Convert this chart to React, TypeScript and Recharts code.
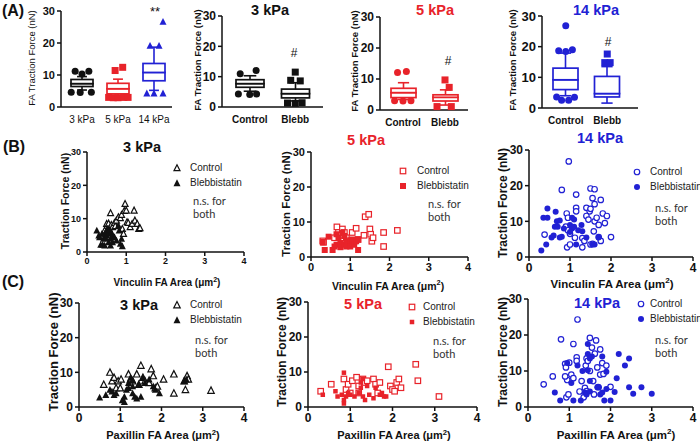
import React from 'react'
import { ComposedChart, ScatterChart, Bar, Scatter, XAxis, YAxis } from 'recharts'

const RED = '#e8232a'
const BLUE = '#2121d4'
const INK = '#111'
const FONT = '"Liberation Sans", Arial, sans-serif'
const NOTE_FONT = 'Lato, "Open Sans", sans-serif'

// ---- (A) box plots, stats are [min, q1, median, q3, max] ----
const stiffCats = ['3 kPa', '5 kPa', '14 kPa']
const stiffStats = [
  [5.3, 6.4, 7.3, 8.6, 9.5],
  [3.3, 4.1, 5.7, 7.4, 8.7],
  [5.2, 8.2, 10.8, 13.6, 18.7],
]
// outliers: [offset inside the band, value]
const stiffOut = [
  [[-0.19, 11.2], [0, 10.3], [0.19, 11.2], [-0.3, 4.6], [-0.05, 4.5], [0.26, 4.6]],
  [[-0.08, 11.4], [0.13, 12.4], [-0.26, 3], [-0.13, 2.9], [0, 2.9], [0.16, 3], [0.28, 3]],
  [[0.25, 26.7], [-0.11, 19.2], [0.14, 19.2], [-0.2, 4.3], [0, 4.3], [0.25, 4.3]],
]

const treatCats = ['Control', 'Blebb']
const stats3 = [[5.2, 6.5, 7.7, 9.0, 10.3], [2.0, 3.0, 4.4, 5.9, 8.0]]
const out3 = [
  [[-0.21, 11.0], [0.14, 12.0], [-0.25, 4.3], [0, 4.1], [0.15, 4.3]],
  [[0, 11.5], [-0.1, 8.8], [0.11, 8.6], [-0.17, 1.3], [0, 1.2], [0.15, 1.4]],
]
const stats5 = [[3.4, 4.0, 5.6, 7.0, 8.8], [1.6, 2.9, 4.1, 4.9, 6.5]]
const out5 = [
  [[-0.13, 12.1], [0.08, 12.4], [-0.2, 3.0], [0, 2.9], [0.19, 3.0]],
  [[0, 9.7], [0.1, 7.3], [-0.19, 1.1], [0.15, 1.1]],
]
const stats14 = [[4.0, 6.0, 9.2, 13.0, 17.9], [1.6, 3.6, 4.7, 10.3, 13.5]]
const out14 = [
  [[0, 26.8], [-0.17, 18.7], [0, 18.4], [0.16, 19.0], [-0.22, 3.6], [-0.1, 2.5], [0.07, 2.5], [0.21, 3.5]],
  [[0, 17.6], [-0.06, 14.8], [0.07, 14.8]],
]

// ---- (B) vinculin FA area vs traction force, [area, force] ----
const vin3Ctrl = [[0.45, 6.5], [0.5, 8.5], [0.55, 8.6], [0.55, 6], [0.6, 11.7], [0.62, 8.2], [0.65, 7.5], [0.7, 8.8], [0.72, 7.8], [0.75, 9.5], [0.8, 10.5], [0.85, 10.2], [0.88, 11.2], [0.9, 7], [0.93, 5.5], [0.95, 12.4], [0.97, 14.5], [1.0, 12.5], [1.02, 9], [1.05, 8.8], [1.1, 7.5], [1.15, 8.5], [1.2, 12.5], [1.22, 9.5], [1.28, 8.5], [1.32, 7], [1.35, 7.2]]
const vin3Bleb = [[0.25, 6.5], [0.3, 5], [0.32, 4.5], [0.35, 2.2], [0.38, 5.5], [0.4, 2.2], [0.42, 4], [0.45, 2], [0.45, 5.5], [0.5, 6.5], [0.5, 5], [0.52, 7], [0.55, 5.5], [0.55, 3], [0.6, 4], [0.6, 2], [0.62, 6], [0.65, 5], [0.65, 3], [0.7, 4.5], [0.75, 3.5], [0.8, 8], [0.82, 6.5], [0.85, 2.5], [0.88, 4], [0.9, 1.8], [0.48, 4.2], [0.58, 6.8]]
const vin5Ctrl = [[0.3, 4.6], [0.32, 4.2], [0.6, 5.5], [0.66, 8.6], [0.7, 7], [0.75, 6.2], [0.8, 8], [0.85, 7], [0.9, 5.5], [0.95, 3.5], [1.05, 7], [1.1, 4.5], [1.15, 8.2], [1.2, 5], [1.35, 6.2], [1.38, 11.5], [1.47, 12.2], [1.5, 8], [1.52, 6.5], [1.55, 4.5], [1.58, 5.5], [1.85, 7], [1.85, 3], [2.2, 7.6]]
const vin5Bleb = [[0.3, 4.2], [0.35, 2], [0.45, 5.8], [0.55, 2], [0.6, 3], [0.65, 3.5], [0.65, 6.5], [0.7, 5.5], [0.75, 4], [0.75, 2.8], [0.8, 7], [0.85, 3.5], [0.85, 6], [0.9, 4.5], [0.9, 3], [0.95, 4], [1.0, 3], [1.0, 4.8], [1.05, 5], [1.1, 3.5], [1.15, 4.5], [1.2, 2], [1.2, 5]]
const vin14Ctrl = [[0.38, 6.3], [0.8, 18.8], [0.9, 8.5], [0.92, 12.2], [0.93, 2.7], [0.95, 11], [0.95, 7.5], [0.97, 26.8], [1.0, 3.5], [1.0, 6.5], [1.12, 5.4], [1.15, 17.5], [1.15, 13.8], [1.15, 12.8], [1.3, 5.3], [1.3, 2.7], [1.35, 4.5], [1.4, 13.8], [1.4, 11.5], [1.45, 10.5], [1.48, 12.8], [1.5, 19.2], [1.5, 13.5], [1.5, 3.5], [1.55, 16.5], [1.55, 3.7], [1.58, 7.2], [1.6, 19], [1.6, 14.8], [1.6, 10], [1.65, 11], [1.7, 9], [1.7, 5.6], [1.75, 16], [1.75, 4.5], [1.8, 12.2], [1.85, 9.5], [1.9, 11.5], [2.0, 5.6]]
const vin14Bleb = [[0.3, 1.8], [0.35, 11], [0.42, 3.5], [0.45, 13.6], [0.45, 11], [0.55, 5.5], [0.6, 6], [0.63, 8.5], [0.65, 12.7], [0.68, 10], [0.7, 8.5], [0.75, 10.2], [0.75, 5.5], [0.8, 5.7], [0.85, 8], [1.0, 9], [1.0, 7], [1.05, 11], [1.05, 8], [1.1, 10.5], [1.1, 8.5], [1.15, 3.5], [1.2, 7.5], [1.28, 9], [1.3, 7.2], [1.4, 5.5], [1.55, 3.5], [1.6, 3.5], [1.7, 5.5]]

// ---- (C) paxillin FA area vs traction force ----
const pax3Ctrl = [[0.6, 6.5], [0.75, 10], [0.8, 7.5], [0.85, 8.5], [0.9, 5.5], [0.95, 7.5], [1.0, 5.5], [1.02, 8], [1.2, 9.5], [1.25, 8], [1.3, 7.5], [1.4, 9.5], [1.45, 6.5], [1.5, 12], [1.55, 8.5], [1.6, 7.5], [1.7, 7], [1.75, 11], [1.8, 9], [1.85, 5.5], [1.9, 6], [2.05, 8], [2.3, 9.5], [2.3, 4], [2.55, 7.5], [2.58, 5], [2.62, 9], [2.65, 8], [3.2, 4.8]]
const pax3Bleb = [[0.5, 2.8], [0.65, 3.5], [0.75, 5], [0.8, 4.5], [0.85, 3.5], [0.9, 4], [1.05, 2], [1.1, 1.5], [1.1, 3], [1.15, 5], [1.2, 7], [1.2, 5.5], [1.25, 8.5], [1.3, 6], [1.3, 4], [1.3, 7.8], [1.35, 3], [1.4, 2.5], [1.45, 6.5], [1.5, 3], [1.55, 8.5], [1.6, 7], [1.7, 8], [1.8, 6], [1.85, 5], [1.95, 4], [2.55, 7.5], [2.6, 8]]
const pax5Ctrl = [[0.3, 4.5], [0.55, 6.5], [0.85, 8], [0.9, 5], [0.95, 6.5], [1.0, 4], [1.05, 7.5], [1.15, 8.5], [1.2, 6], [1.2, 4], [1.3, 8], [1.35, 7], [1.4, 7.5], [1.55, 8], [1.6, 6.5], [1.65, 4], [1.7, 7], [1.9, 11.5], [1.95, 6], [2.0, 5], [2.05, 4.5], [2.1, 7], [2.15, 8], [2.2, 5.5], [2.55, 12.2], [2.6, 7.5], [3.1, 3]]
const pax5Bleb = [[0.35, 3.5], [0.65, 4.5], [0.7, 3], [0.8, 3.5], [0.85, 9.8], [0.85, 2], [0.85, 1], [0.9, 3], [0.95, 4], [1.0, 3.5], [1.1, 3], [1.2, 4], [1.25, 7], [1.25, 5.5], [1.3, 8], [1.3, 3], [1.35, 2], [1.4, 6], [1.45, 3.5], [1.55, 2.5], [1.6, 5.5], [1.7, 3.5], [1.75, 4], [1.8, 3], [1.85, 3]]
const pax14Ctrl = [[0.38, 6.3], [0.6, 8.5], [0.8, 18.8], [0.9, 12], [0.92, 11], [0.95, 7.5], [0.9, 8.5], [0.93, 2.7], [0.98, 3.5], [1.0, 12.3], [1.05, 9], [1.1, 8], [1.1, 17.5], [1.18, 13.8], [1.18, 12.8], [1.2, 24.3], [1.25, 4.3], [1.3, 7.2], [1.35, 2.7], [1.38, 5.3], [1.4, 11.5], [1.42, 13.5], [1.42, 4.4], [1.45, 12.8], [1.5, 19.2], [1.5, 10], [1.55, 16.5], [1.58, 7.2], [1.6, 3.5], [1.62, 14.8], [1.65, 18.5], [1.68, 11], [1.7, 5.5], [1.75, 9], [1.75, 16], [1.8, 12.2], [1.83, 9.2], [1.9, 11.5], [2.0, 5.6]]
const pax14Bleb = [[0.65, 4], [0.78, 1.8], [0.95, 12.2], [1.05, 6.7], [1.1, 1.8], [1.2, 11.5], [1.28, 1.8], [1.32, 10], [1.38, 4], [1.42, 3.5], [1.45, 17.5], [1.45, 14.7], [1.45, 10.2], [1.5, 13.5], [1.5, 4.3], [1.5, 7.2], [1.55, 14], [1.68, 5.5], [1.72, 5.5], [1.75, 3.5], [1.8, 14], [1.8, 4], [1.85, 1.8], [1.9, 5], [1.9, 9.8], [2.0, 1.8], [2.1, 4.2], [2.15, 8], [2.2, 14.7], [2.35, 11.5], [2.45, 13.5], [2.45, 5.5], [2.55, 3.7], [2.75, 5.5], [3.0, 3.7]]

const forceTicks = [0, 10, 20, 30]
const areaTicks = [0, 1, 2, 3, 4]

type Plot = { x0: number; x1: number; y0: number; y1: number }

const YW = 34
const MT = 8
const MR = 10
const XH = 24

function frame(p: Plot) {
  return {
    left: p.x0 - YW,
    top: p.y0 - MT,
    width: p.x1 - p.x0 + YW + MR,
    height: p.y1 - p.y0 + MT + XH,
  }
}

function Mark({ cx, cy, kind, color, open, size }: any) {
  const fill = open ? '#fff' : color
  const sw = open ? 1.2 : 0
  const s = open ? size - 1 : size
  if (kind === 'circle') return <circle cx={cx} cy={cy} r={s / 2} fill={fill} stroke={color} strokeWidth={sw} />
  if (kind === 'square') return <rect x={cx - s / 2} y={cy - s / 2} width={s} height={s} fill={fill} stroke={color} strokeWidth={sw} />
  const h = s * 0.9
  return (
    <polygon
      points={`${cx},${cy - h / 2 - 0.5} ${cx - s / 2},${cy + h / 2} ${cx + s / 2},${cy + h / 2}`}
      fill={fill}
      stroke={color}
      strokeWidth={sw}
    />
  )
}

const LowWhisker = (p: any) => {
  const cx = p.x + p.width / 2
  const c = p.payload.color
  const cap = p.width * 0.45
  return (
    <g>
      <line x1={cx} x2={cx} y1={p.y} y2={p.y + p.height} stroke={c} strokeWidth={1.6} />
      <line x1={cx - cap / 2} x2={cx + cap / 2} y1={p.y + p.height} y2={p.y + p.height} stroke={c} strokeWidth={1.6} />
    </g>
  )
}

const HighWhisker = (p: any) => {
  const cx = p.x + p.width / 2
  const c = p.payload.color
  const cap = p.width * 0.45
  return (
    <g>
      <line x1={cx} x2={cx} y1={p.y} y2={p.y + p.height} stroke={c} strokeWidth={1.6} />
      <line x1={cx - cap / 2} x2={cx + cap / 2} y1={p.y} y2={p.y} stroke={c} strokeWidth={1.6} />
    </g>
  )
}

const BoxSeg = (p: any) => (
  <rect x={p.x} y={p.y} width={p.width} height={p.height} fill="#fff" stroke={p.payload.color} strokeWidth={1.7} />
)

function BoxPanel({ cats, stats, outs, colors, kinds, plot, barSize, tickSize, catSize, catBold, pad }: any) {
  const f = frame(plot)
  const rows = cats.map((name: string, i: number) => {
    const [mn, q1, md, q3, mx] = stats[i]
    return { name, base: mn, lw: q1 - mn, bl: md - q1, bh: q3 - md, hw: mx - q3, color: colors[i] }
  })
  return (
    <div style={{ position: 'absolute', left: f.left, top: f.top }}>
      <ComposedChart width={f.width} height={f.height} data={rows} margin={{ top: MT, right: MR, left: 0, bottom: 0 }}>
        <XAxis
          xAxisId="cat"
          dataKey="name"
          height={XH}
          interval={0}
          padding={pad}
          tickLine={false}
          tickSize={4}
          tickMargin={5}
          axisLine={{ stroke: INK, strokeWidth: 1.5 }}
          tick={{ fontSize: catSize, fontWeight: catBold ? 700 : 400, fill: INK, fontFamily: FONT }}
        />
        <XAxis xAxisId="num" type="number" dataKey="x" domain={[0, cats.length]} padding={pad} hide />
        <YAxis
          width={YW}
          domain={[0, 30]}
          ticks={forceTicks}
          interval={0}
          tickSize={4}
          tickMargin={2}
          axisLine={{ stroke: INK, strokeWidth: 1.5 }}
          tickLine={{ stroke: INK, strokeWidth: 1.5 }}
          tick={{ fontSize: tickSize, fontWeight: 700, fill: INK, fontFamily: FONT }}
        />
        <Bar xAxisId="cat" dataKey="base" stackId="s" fill="transparent" barSize={barSize} isAnimationActive={false} />
        <Bar xAxisId="cat" dataKey="lw" stackId="s" barSize={barSize} shape={LowWhisker} isAnimationActive={false} />
        <Bar xAxisId="cat" dataKey="bl" stackId="s" barSize={barSize} shape={BoxSeg} isAnimationActive={false} />
        <Bar xAxisId="cat" dataKey="bh" stackId="s" barSize={barSize} shape={BoxSeg} isAnimationActive={false} />
        <Bar xAxisId="cat" dataKey="hw" stackId="s" barSize={barSize} shape={HighWhisker} isAnimationActive={false} />
        {cats.map((c: string, i: number) => (
          <Scatter
            key={c}
            xAxisId="num"
            dataKey="v"
            data={outs[i].map(([dx, v]: number[]) => ({ x: i + 0.5 + dx, v }))}
            shape={(p: any) => <Mark cx={p.cx} cy={p.cy} kind={kinds[i]} color={colors[i]} size={7} />}
            isAnimationActive={false}
          />
        ))}
      </ComposedChart>
    </div>
  )
}

function ScatterPanel({ plot, ctrl, bleb, color, kind, size, blebSize, tickSize }: any) {
  const f = frame(plot)
  const tick = { fontSize: tickSize, fontWeight: 700, fill: INK, fontFamily: FONT }
  const line = { stroke: INK, strokeWidth: 1.5 }
  return (
    <div style={{ position: 'absolute', left: f.left, top: f.top }}>
      <ScatterChart width={f.width} height={f.height} margin={{ top: MT, right: MR, left: 0, bottom: 0 }}>
        <XAxis type="number" dataKey="x" domain={[0, 4]} ticks={areaTicks} interval={0} height={XH} tickSize={4} tickMargin={2} axisLine={line} tickLine={line} tick={tick} />
        <YAxis type="number" dataKey="y" domain={[0, 30]} ticks={forceTicks} interval={0} width={YW} tickSize={4} tickMargin={2} axisLine={line} tickLine={line} tick={tick} />
        <Scatter
          data={ctrl.map(([x, y]: number[]) => ({ x, y }))}
          shape={(p: any) => <Mark cx={p.cx} cy={p.cy} kind={kind} color={color} open size={size} />}
          isAnimationActive={false}
        />
        <Scatter
          data={bleb.map(([x, y]: number[]) => ({ x, y }))}
          shape={(p: any) => <Mark cx={p.cx} cy={p.cy} kind={kind} color={color} size={blebSize} />}
          isAnimationActive={false}
        />
      </ScatterChart>
    </div>
  )
}

function Txt({ x, y, size = 11, color = INK, bold = false, rot = false, family = FONT, left = false, children }: any) {
  return (
    <div
      style={{
        position: 'absolute',
        left: x,
        top: y,
        transform: left ? 'translateY(-50%)' : `translate(-50%, -50%)${rot ? ' rotate(-90deg)' : ''}`,
        fontSize: size,
        fontWeight: bold ? 700 : 400,
        color,
        fontFamily: family,
        whiteSpace: 'nowrap',
        lineHeight: 1,
      }}
    >
      {children}
    </div>
  )
}

function Key({ x, y, tx, kind, color, open, size, label }: any) {
  return (
    <>
      <svg width={12} height={12} style={{ position: 'absolute', left: x - 6, top: y - 6 }}>
        <Mark cx={6} cy={6} kind={kind} color={color} open={open} size={size} />
      </svg>
      <Txt x={tx} y={y} size={10} color="#222" left>{label}</Txt>
    </>
  )
}

function Legend({ x, y, tx, kind, color, size, blebSize, nx, ny }: any) {
  return (
    <>
      <Key x={x} y={y} tx={tx} kind={kind} color={color} open size={size} label="Control" />
      <Key x={x} y={y + 15} tx={tx} kind={kind} color={color} size={blebSize} label="Blebbistatin" />
      <Txt x={nx} y={ny} size={11} color="#333" family={NOTE_FONT} left>n.s. for</Txt>
      <Txt x={nx} y={ny + 13} size={11} color="#333" family={NOTE_FONT} left>both</Txt>
    </>
  )
}

const um2 = <>(μm<sup style={{ fontSize: '0.7em' }}>2</sup>)</>

export default function App() {
  return (
    <div style={{ position: 'absolute', left: 0, top: 0, width: 700, height: 443, overflow: 'hidden', background: '#fff', fontFamily: FONT }}>
      {/* (A) */}
      <Txt x={13} y={11} size={16} bold>(A)</Txt>
      <BoxPanel cats={stiffCats} stats={stiffStats} outs={stiffOut} colors={[INK, RED, BLUE]} kinds={['circle', 'square', 'triangle']}
        plot={{ x0: 61, x1: 172, y0: 11, y1: 107 }} barSize={22} tickSize={11} catSize={10} catBold={false} pad={{ left: 3, right: 0 }} />
      <Txt x={32} y={58} size={9.5} rot>FA Traction Force (nN)</Txt>
      <Txt x={155} y={11} size={13}>**</Txt>

      <BoxPanel cats={treatCats} stats={stats3} outs={out3} colors={[INK, INK]} kinds={['circle', 'square']}
        plot={{ x0: 222, x1: 323, y0: 16, y1: 107 }} barSize={28} tickSize={12} catSize={10} catBold pad={{ left: 5, right: 5 }} />
      <Txt x={198} y={60} size={9.5} bold rot>FA Traction Force (nN)</Txt>
      <Txt x={270} y={10} size={14.5} bold>3 kPa</Txt>
      <Txt x={294} y={53} size={12}>#</Txt>

      <BoxPanel cats={treatCats} stats={stats5} outs={out5} colors={[RED, RED]} kinds={['circle', 'square']}
        plot={{ x0: 380, x1: 468, y0: 17, y1: 110 }} barSize={25} tickSize={12} catSize={10} catBold pad={{ left: 2, right: 2 }} />
      <Txt x={355} y={61} size={9.5} bold rot>FA Traction Force (nN)</Txt>
      <Txt x={435} y={10} size={14.5} bold color={RED}>5 kPa</Txt>
      <Txt x={448} y={61} size={12}>#</Txt>

      <BoxPanel cats={treatCats} stats={stats14} outs={out14} colors={[BLUE, BLUE]} kinds={['circle', 'square']}
        plot={{ x0: 542, x1: 638, y0: 16, y1: 108 }} barSize={25} tickSize={13} catSize={10} catBold pad={{ left: 3, right: 10 }} />
      <Txt x={513} y={60} size={9.5} bold rot>FA Traction Force (nN)</Txt>
      <Txt x={596} y={10} size={14.5} bold color={BLUE}>14 kPa</Txt>
      <Txt x={608} y={42} size={12}>#</Txt>

      {/* (B) */}
      <Txt x={14} y={147} size={16} bold>(B)</Txt>
      <Txt x={142} y={147} size={14.5} bold>3 kPa</Txt>
      <ScatterPanel plot={{ x0: 87, x1: 244, y0: 152, y1: 252 }} ctrl={vin3Ctrl} bleb={vin3Bleb} color={INK} kind="triangle" size={7} blebSize={7} tickSize={9} />
      <Txt x={65} y={201} size={10.5} bold rot>Traction Force (nN)</Txt>
      <Txt x={167} y={282} size={10} bold>Vinculin FA Area {um2}</Txt>
      <Legend x={177} y={168} tx={190} kind="triangle" color={INK} size={7} blebSize={7} nx={193} ny={200} />

      <Txt x={366} y={140} size={14.5} bold color={RED}>5 kPa</Txt>
      <ScatterPanel plot={{ x0: 311, x1: 468, y0: 152, y1: 257 }} ctrl={vin5Ctrl} bleb={vin5Bleb} color={RED} kind="square" size={6.5} blebSize={6} tickSize={11} />
      <Txt x={287} y={204} size={11.5} bold rot>Traction Force (nN)</Txt>
      <Txt x={388} y={285} size={10.5} bold>Vinculin FA Area {um2}</Txt>
      <Legend x={403} y={171} tx={417} kind="square" color={RED} size={6.5} blebSize={6} nx={428} ny={203} />

      <Txt x={600} y={138} size={14.5} bold color={BLUE}>14 kPa</Txt>
      <ScatterPanel plot={{ x0: 529, x1: 693, y0: 150, y1: 257 }} ctrl={vin14Ctrl} bleb={vin14Bleb} color={BLUE} kind="circle" size={6.5} blebSize={6} tickSize={12} />
      <Txt x={503} y={203} size={12} bold rot>Traction Force (nN)</Txt>
      <Txt x={612} y={284} size={11.5} bold>Vinculin FA Area {um2}</Txt>
      <Legend x={637} y={172} tx={650} kind="circle" color={BLUE} size={6.5} blebSize={6} nx={655} ny={207} />

      {/* (C) */}
      <Txt x={13} y={282} size={16} bold>(C)</Txt>
      <ScatterPanel plot={{ x0: 79, x1: 244, y0: 303, y1: 407 }} ctrl={pax3Ctrl} bleb={pax3Bleb} color={INK} kind="triangle" size={7.5} blebSize={7} tickSize={12} />
      <Txt x={139} y={305} size={14.5} bold>3 kPa</Txt>
      <Txt x={53} y={352} size={13} bold rot>Traction Force (nN)</Txt>
      <Txt x={163} y={435} size={11} bold>Paxillin FA Area {um2}</Txt>
      <Legend x={177} y={305} tx={190} kind="triangle" color={INK} size={7.5} blebSize={7} nx={195} ny={339} />

      <ScatterPanel plot={{ x0: 308, x1: 477, y0: 302, y1: 407 }} ctrl={pax5Ctrl} bleb={pax5Bleb} color={RED} kind="square" size={6.5} blebSize={4.5} tickSize={12} />
      <Txt x={363} y={304} size={14.5} bold color={RED}>5 kPa</Txt>
      <Txt x={282} y={352} size={12} bold rot>Traction Force (nN)</Txt>
      <Txt x={394} y={435} size={11} bold>Paxillin FA Area {um2}</Txt>
      <Legend x={412} y={307} tx={423} kind="square" color={RED} size={6.5} blebSize={4.5} nx={433} ny={340} />

      <ScatterPanel plot={{ x0: 528, x1: 693, y0: 299, y1: 407 }} ctrl={pax14Ctrl} bleb={pax14Bleb} color={BLUE} kind="circle" size={6.5} blebSize={6} tickSize={12} />
      <Txt x={597} y={303} size={14.5} bold color={BLUE}>14 kPa</Txt>
      <Txt x={503} y={352} size={12} bold rot>Traction Force (nN)</Txt>
      <Txt x={616} y={435} size={11.5} bold>Paxillin FA Area {um2}</Txt>
      <Legend x={641} y={304} tx={650} kind="circle" color={BLUE} size={6.5} blebSize={6} nx={655} ny={339} />
    </div>
  )
}
